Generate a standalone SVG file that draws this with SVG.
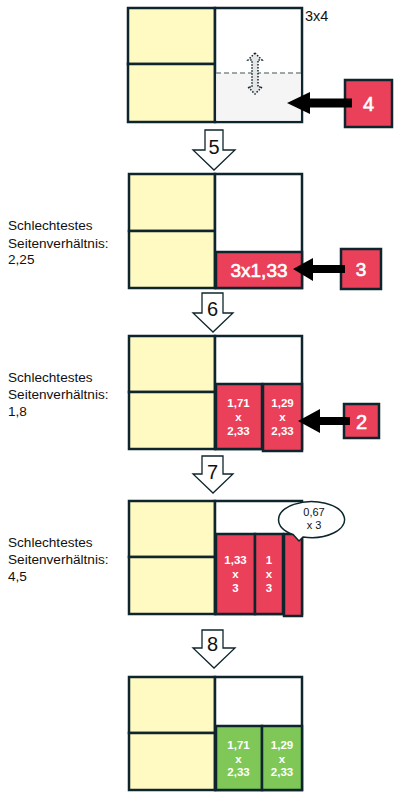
<svg xmlns="http://www.w3.org/2000/svg" width="402" height="799" viewBox="0 0 402 799">
<defs>
<style>
.y{fill:#fffac2;stroke:#0e252d;stroke-width:2.5}
.w{fill:#ffffff;stroke:#0e252d;stroke-width:2.5}
.r{fill:#ea405a;stroke:#0e252d;stroke-width:2.5}
.g{fill:#7fc858;stroke:#0e252d;stroke-width:2.5}
.blk{fill:#000000}
.step{fill:#ffffff;stroke:#0e252d;stroke-width:1.3}
.t{font-family:"Liberation Sans",Arial,sans-serif;fill:#111111}
.lbl{font-size:13.6px}
.num{font-size:20px;text-anchor:middle}
.wt{font-family:"Liberation Sans",Arial,sans-serif;fill:#ffffff;text-anchor:middle}
.big{stroke:#ffffff;stroke-width:0.6}
.sm{font-size:11.5px;font-weight:bold}
</style>
</defs>

<g id="stage1">
<rect class="y" x="128" y="8" width="87" height="56"/>
<rect class="y" x="128" y="64" width="87" height="58"/>
<rect class="w" x="215" y="8" width="87" height="114"/>
<rect x="216.3" y="73" width="84.4" height="47.7" fill="#f5f5f5"/>
<line x1="216" y1="73" x2="301" y2="73" stroke="#7f8c8d" stroke-width="1.5" stroke-dasharray="5,3"/>
<path d="M255,53 L262,60 H258 V87 H262 L255,94 L248,87 H252 V60 H248 Z" fill="#e6e6e6" stroke="#0e252d" stroke-width="1.5" stroke-dasharray="1.5,1.5"/>
<text class="t" x="305" y="21" font-size="14.5">3x4</text>
</g>
<g id="box4">
<rect class="r" x="345" y="80" width="47" height="47"/>
<text class="wt big" x="368.5" y="111" font-size="20">4</text>
</g>

<g id="stage2">
<rect class="y" x="129" y="174" width="86" height="57"/>
<rect class="y" x="129" y="231" width="86" height="57"/>
<rect class="w" x="215" y="174" width="87" height="114"/>
<rect class="r" x="216" y="252" width="86" height="36"/>
<text class="wt big" x="259" y="277" font-size="19">3x1,33</text>
<text class="t lbl" x="8" y="230">Schlechtestes</text>
<text class="t lbl" x="8" y="248">Seitenverhältnis:</text>
<text class="t lbl" x="8" y="264">2,25</text>
</g>
<g id="box3">
<rect class="r" x="341" y="249" width="40" height="40"/>
<text class="wt big" x="361" y="276" font-size="19">3</text>
</g>

<g id="stage3">
<rect class="y" x="129" y="336" width="86" height="56"/>
<rect class="y" x="129" y="392" width="86" height="57"/>
<rect class="w" x="215" y="336" width="87" height="113"/>
<rect class="r" x="216" y="384" width="46" height="65"/>
<rect class="r" x="263" y="384" width="39" height="67" stroke-width="3"/>
<text class="wt sm" x="238.5" y="407">1,71</text>
<text class="wt sm" x="238.5" y="421">x</text>
<text class="wt sm" x="238.5" y="435">2,33</text>
<text class="wt sm" x="282.5" y="407">1,29</text>
<text class="wt sm" x="282.5" y="421">x</text>
<text class="wt sm" x="282.5" y="435">2,33</text>
<text class="t lbl" x="8" y="382">Schlechtestes</text>
<text class="t lbl" x="8" y="399">Seitenverhältnis:</text>
<text class="t lbl" x="8" y="416">1,8</text>
</g>
<g id="box2">
<rect class="r" x="344" y="404" width="35" height="34"/>
<text class="wt big" x="361.5" y="429" font-size="20">2</text>
</g>

<g id="stage4">
<rect class="y" x="129" y="501" width="86" height="56"/>
<rect class="y" x="129" y="557" width="86" height="57"/>
<rect class="w" x="215" y="501" width="87" height="113"/>
<rect class="r" x="216" y="534" width="39" height="80"/>
<rect class="r" x="255" y="534" width="28" height="80"/>
<rect class="r" x="284" y="534" width="18" height="82" stroke-width="3"/>
<text class="wt sm" x="235.5" y="564">1,33</text>
<text class="wt sm" x="235.5" y="578">x</text>
<text class="wt sm" x="235.5" y="592">3</text>
<text class="wt sm" x="269" y="564">1</text>
<text class="wt sm" x="269" y="578">x</text>
<text class="wt sm" x="269" y="592">3</text>
<text class="t lbl" x="8" y="547">Schlechtestes</text>
<text class="t lbl" x="8" y="564">Seitenverhältnis:</text>
<text class="t lbl" x="8" y="581">4,5</text>
</g>
<g id="bubble">
<path d="M293,534.5 A33,18 0 1 1 303,537 L299,541 Z" fill="#ffffff" stroke="#0e252d" stroke-width="1.5"/>
<text class="t" x="314" y="516" font-size="11" text-anchor="middle">0,67</text>
<text class="t" x="314" y="529" font-size="11" text-anchor="middle">x 3</text>
</g>

<g id="stage5">
<rect class="y" x="129" y="677" width="86" height="56"/>
<rect class="y" x="129" y="733" width="86" height="57"/>
<rect class="w" x="215" y="677" width="87" height="113"/>
<rect class="g" x="216" y="726" width="46" height="64"/>
<rect class="g" x="262" y="726" width="40" height="64"/>
<text class="wt sm" x="238.5" y="749">1,71</text>
<text class="wt sm" x="238.5" y="763">x</text>
<text class="wt sm" x="238.5" y="776">2,33</text>
<text class="wt sm" x="282" y="749">1,29</text>
<text class="wt sm" x="282" y="763">x</text>
<text class="wt sm" x="282" y="776">2,33</text>
</g>

<g id="connectors">
<path class="blk" d="M287,103 L310,92 V98.5 H352 V107.5 H310 V114 Z"/>
<path class="blk" d="M293,269 L313,258 V265 H345 V273 H313 V281 Z"/>
<path class="blk" d="M298,421 L320,409 V417 H350 V425 H320 V433 Z"/>
<g id="step5"><path class="step" d="M205,130 H223 V150 H235 L214,170 L193,150 H205 Z"/><text class="t num" x="214" y="154">5</text></g>
<g id="step6"><path class="step" d="M202,293 H223 V313 H233 L213,332 L193,313 H202 Z"/><text class="t num" x="212.5" y="316">6</text></g>
<g id="step7"><path class="step" d="M202,456 H223 V474 H233 L213,493 L193,474 H202 Z"/><text class="t num" x="212.5" y="479">7</text></g>
<g id="step8"><path class="step" d="M202,630 H223 V648 H235 L214,668 L193,648 H202 Z"/><text class="t num" x="212.5" y="651">8</text></g>
</g>
</svg>
